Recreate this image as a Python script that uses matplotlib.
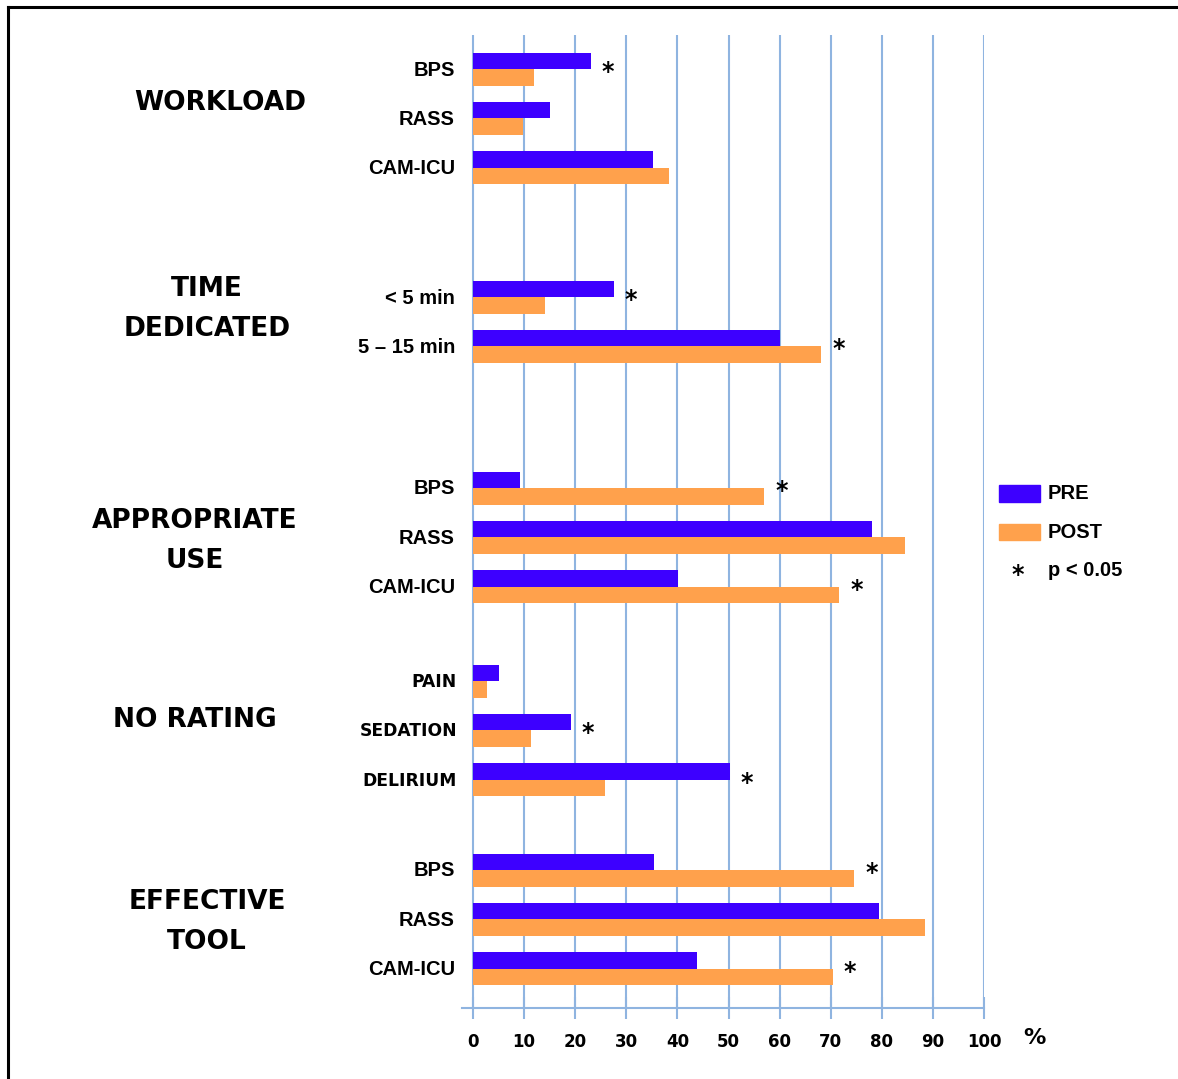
import matplotlib.pyplot as plt
from matplotlib.patches import Rectangle
from matplotlib.lines import Line2D
import numpy as np

# survey results, % of respondents, PRE vs POST
groups = ["WORKLOAD", "TIME\nDEDICATED", "APPROPRIATE\nUSE", "NO RATING", "EFFECTIVE\nTOOL"]
items = [["BPS", "RASS", "CAM-ICU"],
         ["< 5 min", "5 \u2013 15 min"],
         ["BPS", "RASS", "CAM-ICU"],
         ["PAIN", "SEDATION", "DELIRIUM"],
         ["BPS", "RASS", "CAM-ICU"]]
pre = [[23, 15, 35.3],
       [27.5, 60.1],
       [9.2, 78.0, 40.2],
       [5.0, 19.1, 50.2],
       [35.5, 79.4, 43.8]]
post = [[12, 9.7, 38.4],
        [14.0, 68.1],
        [57.0, 84.6, 71.7],
        [2.7, 11.3, 25.9],
        [74.6, 88.5, 70.4]]
signif = [[True, False, False],
          [True, True],
          [True, False, True],
          [False, True, True],
          [True, False, True]]
ticks = list(range(0, 101, 10))

W, H = 1178, 1079
PRE_C = "#3d00ff"
POST_C = "#ffa14c"
GRID_C = "#8fb4e0"

# layout (pixel rows from top)
group_top = [69, 297, 488, 681, 870]
group_lbl = [(220, 103), (207, 309), (195, 541), (195, 720), (207, 922)]
step = 49.3
bh = 16.5


def fp(x, y):
    return (x / W, 1 - y / H)


fig = plt.figure(figsize=(W / 100, H / 100), dpi=100)
x0, x1 = 462, 984
y0, y1 = 35, 1008
ax = fig.add_axes([x0 / W, 1 - y1 / H, (x1 - x0) / W, (y1 - y0) / H])
ax.set_xlim(-(473 - 462) / 5.11, 100)
ax.set_ylim(y1, y0)

for g in range(len(groups)):
    for i, name in enumerate(items[g]):
        yc = group_top[g] + step * i
        ax.barh(yc - bh / 2, pre[g][i], height=bh, color=PRE_C, zorder=3)
        ax.barh(yc + bh / 2, post[g][i], height=bh, color=POST_C, zorder=3)
        if signif[g][i]:
            ax.text(max(pre[g][i], post[g][i]) + 3.4, yc + 3, "*",
                    ha="center", va="center", fontsize=17, fontweight="bold",
                    family="DejaVu Sans", zorder=4)
        if g == 3:
            fig.text(*fp(457, yc + 1), name, ha="right", va="center",
                     fontsize=12.3, fontweight="bold", family="DejaVu Sans")
        else:
            fig.text(*fp(455, yc + 1), name, ha="right", va="center",
                     fontsize=14.5, fontweight="bold", family="Liberation Sans")
    gx, gy = group_lbl[g]
    fig.text(*fp(gx, gy), groups[g], ha="center", va="center", fontsize=19,
             fontweight="bold", family="DejaVu Sans", linespacing=1.7)

ax.set_xticks(ticks)
ax.set_xticklabels([str(t) for t in ticks], fontsize=12, fontweight="bold",
                   family="DejaVu Sans")
ax.tick_params(axis="x", direction="inout", length=16, width=1.5,
               color=GRID_C, pad=10)
ax.set_yticks([])
ax.grid(axis="x", color=GRID_C, lw=1.5, zorder=0)
ax.set_axisbelow(True)
for s in ["top", "right", "left"]:
    ax.spines[s].set_visible(False)
ax.spines["bottom"].set_color(GRID_C)
ax.spines["bottom"].set_linewidth(1.5)

fig.text(*fp(1034, 1038), "%", ha="center", va="center", fontsize=16,
         fontweight="bold", family="DejaVu Sans")

# legend
fig.patches.append(Rectangle(fp(999, 502), 41 / W, 17 / H, transform=fig.transFigure,
                             color=PRE_C))
fig.patches.append(Rectangle(fp(999, 540), 41 / W, 16 / H, transform=fig.transFigure,
                             color=POST_C))
fig.text(*fp(1048, 494), "PRE", ha="left", va="center", fontsize=14.5,
         fontweight="bold", family="Liberation Sans")
fig.text(*fp(1048, 533), "POST", ha="left", va="center", fontsize=14.5,
         fontweight="bold", family="Liberation Sans")
fig.text(*fp(1018, 575), "*", ha="center", va="center", fontsize=17,
         fontweight="bold", family="DejaVu Sans")
fig.text(*fp(1048, 571), "p < 0.05", ha="left", va="center", fontsize=14.5,
         fontweight="bold", family="Liberation Sans")

# frame
fig.add_artist(Line2D([8 / W, 1], [1 - 7 / H, 1 - 7 / H], color="black", lw=2.2,
                      transform=fig.transFigure))
fig.add_artist(Line2D([8 / W, 8 / W], [0, 1 - 7 / H], color="black", lw=2.2,
                      transform=fig.transFigure))

fig.savefig("out.png", dpi=100)
